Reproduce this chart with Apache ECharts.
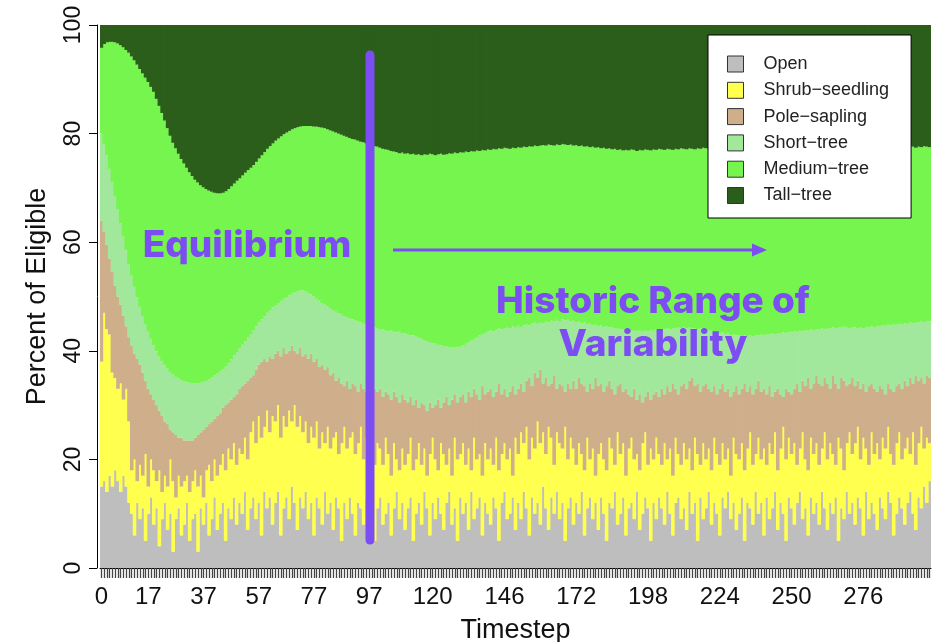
<!DOCTYPE html>
<html><head><meta charset="utf-8">
<script src="https://cdn.jsdelivr.net/npm/echarts@6/dist/echarts.min.js"></script>
<style>html,body{margin:0;padding:0;background:#fff}#c{width:943px;height:642px}</style>
</head><body><div id="c"></div>
<script>
// Timesteps 0..300 (one bar each)
const timesteps = Array.from({length: 301}, (_, i) => String(i));
const tickLabels = [0, 17, 37, 57, 77, 97, 120, 146, 172, 198, 224, 250, 276];
const yTicks = [0, 20, 40, 60, 80, 100];
const classNames = ['Open', 'Shrub\u2212seedling', 'Pole\u2212sapling', 'Short\u2212tree', 'Medium\u2212tree', 'Tall\u2212tree'];
const classColors = ['#BEBEBE', '#FFFF4F', '#CFAE8C', '#A2E89C', '#76F54F', '#2B5E1A'];

// Cumulative percent at the top of each class
const openTop = [
15,16,14,17,15,18,16,14,17,15,12,
10,6,12,9,11,5,10,13,8,11,
4,9,12,7,10,3,9,11,6,8,
12,5,9,10,3,11,8,12,6,9,
13,7,10,12,5,11,9,13,8,12,
10,14,7,11,13,9,12,6,14,11,
13,8,12,14,6,11,13,9,15,12,
7,13,11,14,9,12,6,13,11,8,
14,10,12,7,13,11,5,12,9,13,
10,6,12,11,8,13,9,12,5,11,
13,8,10,12,6,11,14,9,12,7,
11,13,5,10,12,8,14,11,6,12,
9,13,10,7,12,14,8,11,5,13,
10,12,7,14,9,11,13,6,12,10,
8,13,11,5,12,14,9,10,13,7,
12,9,14,11,6,13,10,12,8,15,
11,7,13,10,14,9,12,5,11,13,
8,12,10,14,6,11,13,9,12,7,
13,10,5,12,11,14,8,10,13,6,
11,12,9,14,7,10,13,11,5,12,
9,13,11,8,14,10,6,12,13,9,
11,7,14,10,12,5,13,9,11,14,
8,12,10,6,13,11,14,9,12,7,
10,13,5,12,11,8,14,10,12,6,
13,9,11,14,7,12,10,5,13,11,
8,12,14,9,11,6,13,10,12,8,
14,11,7,12,10,13,5,11,9,14,
10,12,8,13,11,6,14,9,12,10,
7,13,11,9,14,12,6,10,13,11,
8,12,14,10,7,13,11,15,12,16
];
const shrubTop = [
38,47,44,43,36,35,33,34,31,33,27,
18,20,16,19,17,21,15,20,18,16,
18,14,17,15,20,16,13,17,15,16,
17,14,16,18,15,17,13,18,19,16,
20,17,19,21,18,22,20,23,19,22,
21,24,20,25,27,23,28,24,26,29,
25,28,27,30,24,28,26,29,27,30,
26,28,25,27,23,26,24,27,22,25,
23,26,22,24,25,21,23,26,22,24,
25,21,23,26,20,24,22,25,19,23,
22,19,24,21,17,23,20,18,22,19,
21,24,18,20,23,19,22,17,21,24,
20,18,23,21,19,22,17,24,20,21,
23,19,22,18,24,20,21,17,23,20,
22,19,24,18,21,23,20,22,17,24,
21,25,23,26,20,24,22,27,23,25,
21,26,24,19,25,23,22,26,20,24,
22,19,23,21,18,24,20,22,17,21,
23,20,18,24,22,19,25,21,23,17,
22,24,20,21,18,23,25,19,22,20,
24,21,19,23,20,22,17,24,21,19,
23,20,22,18,24,21,19,23,20,22,
18,24,21,19,23,20,22,17,24,21,
20,23,18,22,25,19,21,24,20,22,
19,23,21,25,18,22,26,20,24,21,
23,19,22,25,20,18,24,21,23,19,
22,25,20,23,21,19,24,22,18,23,
25,21,23,26,20,24,22,19,25,21,
23,20,24,22,26,21,19,23,25,20,
22,24,21,25,19,23,26,22,24,23
];
const poleTop = [
64,62,59.5,57,54.5,52,50,48.5,46.5,44.5,42.5,
41,39.5,38.5,37.5,36,34.5,33,32,31,30,
29,28,27,26.5,25.5,25,24.5,24,24,23.5,
23.5,23.5,23.5,24,24.5,25,25.5,26,26.5,27,
27.5,28,28.5,29.5,30,30.5,31,31.5,32,33,
33.5,34,34.5,35,35.5,36.5,37.5,38,38.5,38,
39,38.5,39.5,40,39,40.5,39.5,40,41,40,
39.5,40.5,39,39.5,38.5,39.5,38,38.5,37,37.5,
36.5,37,35.5,36,34.5,35,34,33.5,34.5,33,
34,33.5,32.5,34,33,32.5,33.5,32,33,32.5,
33,31.5,32.5,32,31,32.5,31.5,30.5,32,31,
30.5,31.5,30,31,29.5,30.5,30,29,30.5,29.5,
30,31,29.5,30.5,31.5,30,31,32,30.5,31.5,
32,30.5,32.5,31.5,33,32,31,33.5,32,32.5,
33,31.5,32.5,34,32,33,31.5,32.5,33.5,32,
33,34,32.5,34.5,35,33.5,36,35,36.5,34,
35,33.5,34,35.5,33,34,33.5,32.5,34,33,
34.5,33,35,34,33.5,32.5,34,33,35,33.5,
34,32.5,33.5,34.5,33,32,33.5,34,32.5,33,
32,31.5,33,31,32,30.5,31.5,32.5,31,32,
32.5,31.5,33,32,33.5,32.5,34,33,32,33.5,
34,33,34.5,35,33.5,34,32.5,33.5,34,33,
32.5,33.5,32,33,34,32.5,33,31.5,32.5,33.5,
32,33,34,32.5,33.5,32,33,34.5,32.5,33,
32,33.5,31.5,32.5,33,32,31.5,33,32.5,32,
33,34,32.5,34.5,33.5,35,33,34,35.5,34,
33.5,35,34,33,35.5,34,33,35,34.5,33.5,
34,35,33.5,34.5,33,34,32.5,33.5,34,33,
32.5,33.5,33,32,34,33,32.5,33.5,34,33,
34.5,33.5,35,34,35.5,34.5,35,34,35.5,35
];
const shortTop = [
80,78,76,73.5,71,68.5,66,63.5,61,58.5,56,
53.8,51.8,49.9,48.1,46.4,44.9,43.5,42.2,41,39.9,
38.9,38.1,37.4,36.7,36.1,35.6,35.2,34.9,34.6,34.4,
34.2,34.1,34,34,34,34.1,34.3,34.5,34.8,35.1,
35.5,35.9,36.3,36.6,37.1,37.7,38.4,39.1,39.8,40.5,
41.1,41.7,42.4,43.1,43.8,44.5,45.2,45.8,46.4,47,
47.5,48,48.4,48.8,49.2,49.6,49.9,50.2,50.5,50.8,
51,51.1,51.1,51,50.7,50.4,50,49.6,49.2,48.8,
48.5,48.2,47.9,47.5,47.2,46.9,46.7,46.4,46.2,46,
45.8,45.6,45.4,45.2,45,44.8,44.6,44.5,44.3,44.2,
44,43.9,43.8,43.6,43.7,43.5,43.4,43.5,43.3,43.2,
43.1,42.9,42.8,42.6,42.4,42.2,42,41.8,41.6,41.4,
41.3,41.1,41,40.9,40.8,40.7,40.6,40.7,40.6,40.8,
41,41.3,41.6,41.9,42.2,42.5,42.8,43.1,43.3,43.6,
43.8,43.6,43.9,44.1,43.9,44.2,44.4,44.2,44.5,44.3,
44.6,44.4,44.7,44.9,44.7,45,45.2,45,45.3,45.1,
45.4,45.2,45.6,45.4,45.7,45.5,45.8,45.6,45.7,45.5,
45.6,45.3,45.4,45.1,45.2,44.9,45,44.7,44.8,44.6,
44.7,44.4,44.5,44.3,44.4,44.1,44.2,43.9,44,43.8,
43.9,43.7,43.8,43.6,43.8,43.5,43.7,43.6,43.8,43.7,
43.9,43.8,44,43.9,44.1,44,44.2,44.1,44.3,44.2,
44.4,44.2,44.3,44.1,44.2,44,44.1,43.9,44,43.8,
43.7,43.5,43.6,43.3,43.4,43.1,43.2,42.9,43,42.8,
42.9,42.7,42.8,42.6,42.8,42.7,42.9,42.8,43,42.9,
43.1,43,43.2,43.1,43.3,43.2,43.4,43.3,43.5,43.4,
43.6,43.5,43.7,43.6,43.8,43.7,43.9,43.8,44,43.9,
44.1,44,44.2,44.1,44.3,44.2,44.4,44.3,44.5,44.4,
44.2,44.4,44.3,44.1,44.3,44.2,44.4,44.3,44.5,44.4,
44.6,44.5,44.7,44.6,44.8,44.7,44.9,44.8,45,44.9,
45.1,45,45.2,45.1,45.3,45.2,45.4,45.3,45.5,45.4
];
const mediumTop = [
95.8,96.5,96.8,96.9,96.9,96.8,96.6,96.3,95.9,95.4,94.9,
94.2,93.5,92.7,91.9,91.1,90.3,89.5,88.6,87.7,86.4,
85.1,83.8,82.4,81,79.6,78.3,77.3,76.3,75.3,74.5,
73.7,72.9,72.2,71.5,71,70.5,70.1,69.8,69.5,69.3,
69.1,69,69,69.1,69.4,69.8,70.3,70.8,71.3,71.8,
72.3,72.8,73.3,73.7,74.2,74.8,75.4,76,76.6,77.2,
77.7,78.2,78.7,79.1,79.5,79.9,80.2,80.5,80.8,81,
81.2,81.3,81.4,81.4,81.4,81.4,81.3,81.3,81.2,81.1,
81,80.8,80.6,80.4,80.2,80,79.8,79.6,79.4,79.2,
79,78.9,78.7,78.5,78.4,78.2,78,77.9,77.7,77.6,
77.4,77.2,77.1,77,76.8,76.7,76.6,76.4,76.5,76.3,
76.4,76.2,76.3,76.1,76.2,76,76.2,76.1,76.3,76.2,
76,76.2,76.3,76.1,76.2,76.4,76.3,76.5,76.4,76.6,
76.5,76.7,76.6,76.8,76.7,76.9,76.8,77,76.9,77.1,
77,77.2,77.1,77.3,77.2,77.4,77.3,77.2,77.4,77.3,
77.5,77.4,77.6,77.5,77.7,77.6,77.8,77.7,77.8,77.9,
77.8,78,77.9,77.8,78,77.9,78.1,78,77.9,78,
77.8,77.9,77.7,77.8,77.6,77.7,77.5,77.6,77.4,77.5,
77.3,77.4,77.2,77.3,77.1,77.2,77,77.1,76.9,77,
76.9,77.1,77,76.8,77,76.9,77.1,77,76.9,77.1,
77,77.2,77.1,77,77.2,77.1,77,77.2,77.1,77.3,
77.2,77.1,77.3,77.2,77.1,77.3,77.2,77.4,77.3,77.2,
77.1,77.3,77.2,77,77.2,77.1,77.3,77.2,77,77.1,
77.3,77.2,77,77.1,76.9,77.1,77,77.2,77.1,76.9,
77.1,77,77.2,77.1,77.3,77.2,77,77.2,77.1,77.3,
77.2,77.1,77.3,77.2,77.4,77.3,77.1,77.3,77.2,77.4,
77.3,77.2,77.4,77.3,77.1,77.3,77.2,77.4,77.3,77.5,
77.4,77.3,77.5,77.4,77.2,77.4,77.3,77.5,77.4,77.3,
77.5,77.4,77.6,77.5,77.3,77.5,77.4,77.6,77.5,77.4,
77.6,77.5,77.7,77.6,77.4,77.6,77.5,77.7,77.6,77.5
];

[openTop, shrubTop, poleTop, shortTop, mediumTop].forEach((a, k) => {
  if (a.length !== timesteps.length) throw new Error('array ' + k + ' has ' + a.length);
});

// Per-class shares built from the cumulative boundaries
const diff = (hi, lo) => hi.map((v, i) => +(v - (lo ? lo[i] : 0)).toFixed(2));
const classValues = [
  diff(openTop),
  diff(shrubTop, openTop),
  diff(poleTop, shrubTop),
  diff(shortTop, poleTop),
  diff(mediumTop, shortTop),
  mediumTop.map(v => +(100 - v).toFixed(2))
];

const tickSet = new Set(tickLabels);
const FONT = '"Liberation Sans", Arial, Helvetica, sans-serif';
const PURPLE = '#7B4DF2';
const ANNOT_FONT = '800 37px Inter, "Open Sans", sans-serif';

const chart = echarts.init(document.getElementById('c'), null, {renderer: 'canvas'});
chart.setOption({
  animation: false,
  backgroundColor: '#fff',
  grid: {left: 100, right: 12, top: 25, bottom: 74, containLabel: false, outerBoundsMode: 'none'},
  xAxis: {
    type: 'category', data: timesteps, offset: 5,
    axisLine: {show: true, lineStyle: {color: '#000', width: 1}},
    axisTick: {show: true, interval: 0, alignWithLabel: true, length: 10, lineStyle: {color: '#444', width: 1.3}},
    axisLabel: {interval: (i) => tickSet.has(i), margin: 12, fontSize: 24, color: '#111', fontFamily: FONT},
    splitLine: {show: false},
    name: 'Timestep', nameLocation: 'middle', nameGap: 44,
    nameTextStyle: {fontSize: 27, color: '#111', fontFamily: FONT}
  },
  yAxis: {
    type: 'value', min: yTicks[0], max: yTicks[yTicks.length - 1], interval: 20, offset: 3,
    axisLine: {show: true, lineStyle: {color: '#000', width: 1}},
    axisTick: {show: true, length: 8, lineStyle: {color: '#000', width: 1}},
    axisLabel: {rotate: 90, margin: 12, fontSize: 23, color: '#111', fontFamily: FONT},
    splitLine: {show: false},
    name: 'Percent of Eligible', nameLocation: 'middle', nameGap: 46,
    nameTextStyle: {fontSize: 27, color: '#111', fontFamily: FONT}
  },
  legend: {
    orient: 'vertical', left: 708, top: 35,
    padding: [20, 22, 13.5, 19], itemGap: 8.3, itemWidth: 16, itemHeight: 16,
    backgroundColor: '#fff', borderColor: '#000', borderWidth: 1,
    icon: 'rect', selectedMode: false,
    itemStyle: {borderColor: '#333', borderWidth: 1},
    textStyle: {fontSize: 18, color: '#222', fontFamily: FONT, padding: [0, 0, 0, 15], lineHeight: 18},
    data: classNames
  },
  series: classNames.map((name, k) => ({
    name, type: 'bar', stack: 'total', data: classValues[k],
    barWidth: 3.6,
    itemStyle: {color: classColors[k], borderWidth: 0},
    emphasis: {disabled: true}
  })),
  graphic: [
    {type: 'line', z: 100, shape: {x1: 370, y1: 55, x2: 370, y2: 540},
     style: {stroke: PURPLE, lineWidth: 9, lineCap: 'round'}},
    {type: 'line', z: 100, shape: {x1: 393, y1: 250, x2: 756, y2: 250},
     style: {stroke: PURPLE, lineWidth: 3}},
    {type: 'polygon', z: 100, shape: {points: [[767, 250], [752, 243.5], [752, 256.5]]},
     style: {fill: PURPLE}},
    {type: 'text', z: 100, x: 247, y: 246,
     style: {text: 'Equilibrium', fill: PURPLE, font: ANNOT_FONT, align: 'center', verticalAlign: 'middle'}},
    {type: 'text', z: 100, x: 653, y: 302,
     style: {text: 'Historic Range of', fill: PURPLE, font: ANNOT_FONT, align: 'center', verticalAlign: 'middle'}},
    {type: 'text', z: 100, x: 653, y: 345,
     style: {text: 'Variability', fill: PURPLE, font: ANNOT_FONT, align: 'center', verticalAlign: 'middle'}}
  ]
});
</script>
</body></html>
